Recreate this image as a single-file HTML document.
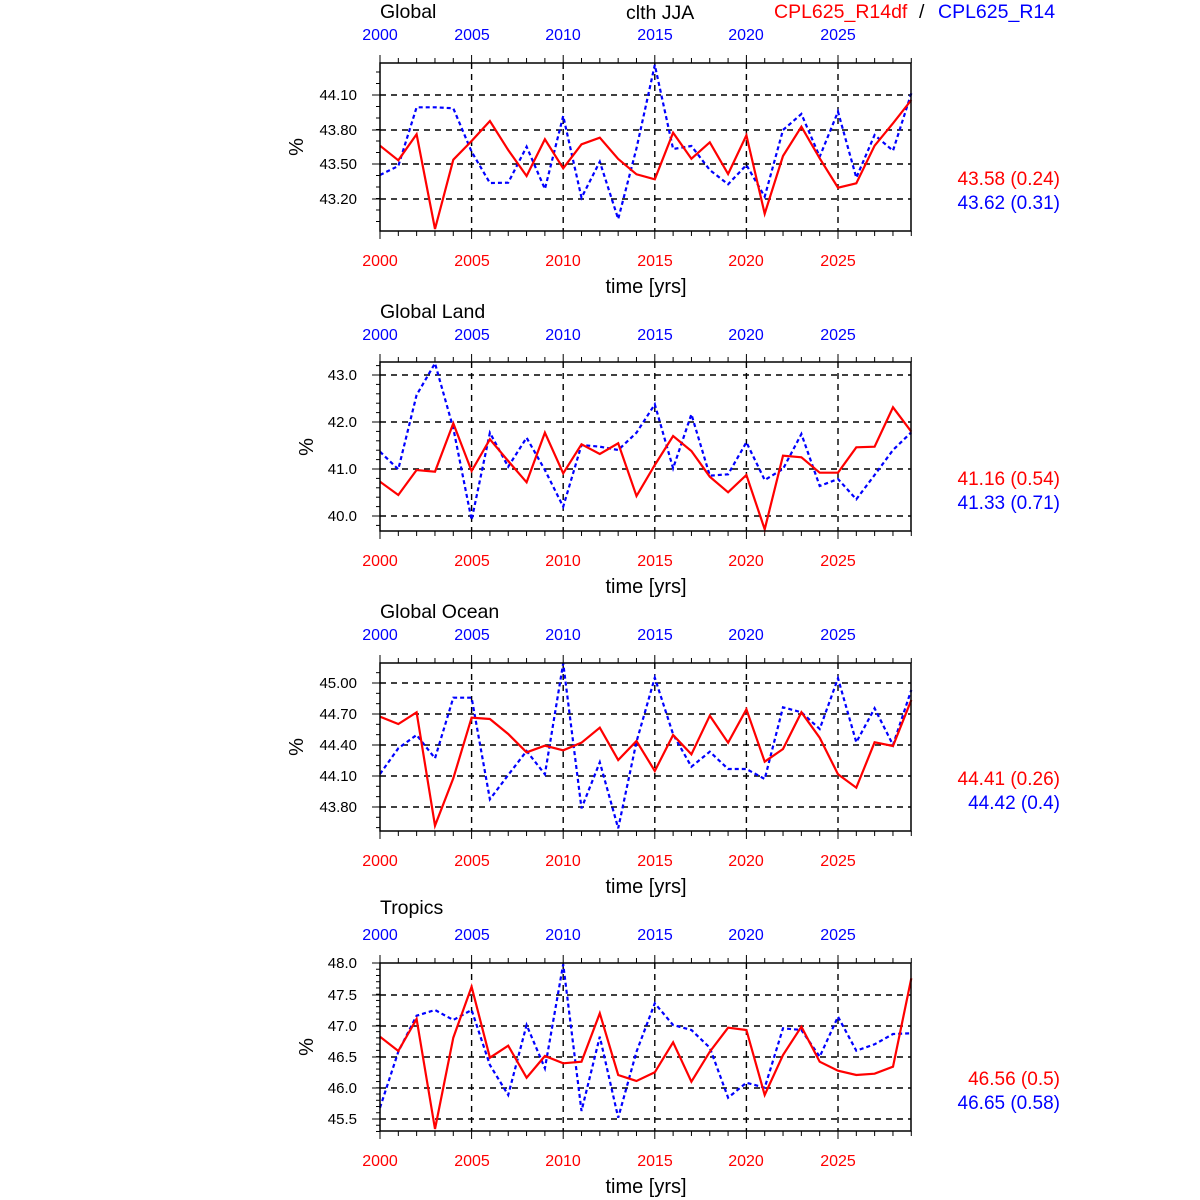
<!DOCTYPE html>
<html><head><meta charset="utf-8"><style>
html,body{margin:0;padding:0;background:#fff;}
svg{display:block;font-family:"Liberation Sans",Arial,sans-serif;}
</style></head><body>
<svg id="s" width="1200" height="1200" viewBox="0 0 1200 1200" xmlns="http://www.w3.org/2000/svg">
<g font-size="19.5" fill="#000">
<text x="380" y="18">Global</text>
<text x="626" y="19">clth JJA</text>
<text x="774" y="18" fill="#f00">CPL625_R14df</text>
<text x="919" y="18">/</text>
<text x="938" y="18" fill="#00f">CPL625_R14</text>
<text x="380" y="318">Global Land</text>
<text x="380" y="618">Global Ocean</text>
<text x="380" y="914">Tropics</text>
</g>
<g font-size="16" fill="#00f" text-anchor="middle">
<text x="380" y="40">2000</text><text x="472" y="40">2005</text><text x="563" y="40">2010</text><text x="655" y="40">2015</text><text x="746" y="40">2020</text><text x="838" y="40">2025</text>
<text x="380" y="340">2000</text><text x="472" y="340">2005</text><text x="563" y="340">2010</text><text x="655" y="340">2015</text><text x="746" y="340">2020</text><text x="838" y="340">2025</text>
<text x="380" y="640">2000</text><text x="472" y="640">2005</text><text x="563" y="640">2010</text><text x="655" y="640">2015</text><text x="746" y="640">2020</text><text x="838" y="640">2025</text>
<text x="380" y="940">2000</text><text x="472" y="940">2005</text><text x="563" y="940">2010</text><text x="655" y="940">2015</text><text x="746" y="940">2020</text><text x="838" y="940">2025</text>
</g>
<g font-size="16" fill="#f00" text-anchor="middle">
<text x="380" y="266">2000</text><text x="472" y="266">2005</text><text x="563" y="266">2010</text><text x="655" y="266">2015</text><text x="746" y="266">2020</text><text x="838" y="266">2025</text>
<text x="380" y="566">2000</text><text x="472" y="566">2005</text><text x="563" y="566">2010</text><text x="655" y="566">2015</text><text x="746" y="566">2020</text><text x="838" y="566">2025</text>
<text x="380" y="866">2000</text><text x="472" y="866">2005</text><text x="563" y="866">2010</text><text x="655" y="866">2015</text><text x="746" y="866">2020</text><text x="838" y="866">2025</text>
<text x="380" y="1166">2000</text><text x="472" y="1166">2005</text><text x="563" y="1166">2010</text><text x="655" y="1166">2015</text><text x="746" y="1166">2020</text><text x="838" y="1166">2025</text>
</g>
<g font-size="20" text-anchor="middle">
<text x="646" y="293">time [yrs]</text><text x="646" y="593">time [yrs]</text><text x="646" y="893">time [yrs]</text><text x="646" y="1193">time [yrs]</text>
<text transform="translate(303,147) rotate(-90)">%</text>
<text transform="translate(313,447) rotate(-90)">%</text>
<text transform="translate(303,747) rotate(-90)">%</text>
<text transform="translate(313,1047) rotate(-90)">%</text>
</g>
<g font-size="15" text-anchor="end">
<text x="357" y="100">44.10</text><text x="357" y="135">43.80</text><text x="357" y="169">43.50</text><text x="357" y="204">43.20</text>
<text x="357" y="380">43.0</text><text x="357" y="427">42.0</text><text x="357" y="474">41.0</text><text x="357" y="521">40.0</text>
<text x="357" y="688">45.00</text><text x="357" y="719">44.70</text><text x="357" y="750">44.40</text><text x="357" y="781">44.10</text><text x="357" y="812">43.80</text>
<text x="357" y="968">48.0</text><text x="357" y="1000">47.5</text><text x="357" y="1031">47.0</text><text x="357" y="1062">46.5</text><text x="357" y="1093">46.0</text><text x="357" y="1124">45.5</text>
</g>
<g font-size="19" text-anchor="end">
<text x="1060" y="185" fill="#f00">43.58 (0.24)</text><text x="1060" y="209" fill="#00f">43.62 (0.31)</text>
<text x="1060" y="485" fill="#f00">41.16 (0.54)</text><text x="1060" y="509" fill="#00f">41.33 (0.71)</text>
<text x="1060" y="785" fill="#f00">44.41 (0.26)</text><text x="1060" y="809" fill="#00f">44.42 (0.4)</text>
<text x="1060" y="1085" fill="#f00">46.56 (0.5)</text><text x="1060" y="1109" fill="#00f">46.65 (0.58)</text>
</g>
</svg>
<script>
var s=document.getElementById('s'),NS='http://www.w3.org/2000/svg';
function el(t,a){var e=document.createElementNS(NS,t);for(var k in a)e.setAttribute(k,a[k]);s.appendChild(e);return e;}
var P=[
{top:63,bot:231,major:[95,130,164,199],minor:11.5,
r:[272,316,238,522,314,258,198,285,363,253,340,268,248,312,358,373,233,311,262,357,241,476,303,215,310,398,385,272,205,135],
b:[360,333,157,157,160,290,384,383,275,402,183,428,320,492,280,30,282,273,345,388,330,425,225,177,305,170,368,240,287,115],off:55},
{top:362,bot:531,major:[375,422,469,516],minor:9.4,
r:[380,420,345,350,205,348,253,318,382,233,355,268,297,265,423,330,243,288,365,412,360,523,302,307,353,353,277,275,157,230],
b:[290,343,120,25,220,495,233,335,248,345,455,270,275,285,233,148,340,178,362,358,262,375,342,237,393,372,433,360,285,232],off:355},
{top:663,bot:831,major:[683,714,745,776,807],minor:10.33,
r:[185,207,172,512,370,188,192,237,292,272,286,263,218,315,258,348,240,298,182,263,163,320,282,172,248,358,398,262,273,135],
b:[357,280,240,310,128,128,433,360,288,358,25,460,322,520,260,68,238,335,290,342,342,372,157,172,222,70,262,160,270,105],off:655},
{top:963,bot:1131,major:[963,995,1026,1057,1088,1119],minor:6.24,
r:[245,288,192,522,248,95,308,272,368,303,325,320,175,360,378,352,262,380,290,218,225,420,300,215,320,347,360,356,335,70],
b:[458,290,182,165,195,165,330,420,210,340,28,468,245,488,290,145,210,225,278,428,383,398,220,225,305,185,287,268,237,235],off:955}];
var X0=380,DX=18.32,X1=911;
P.forEach(function(p){
 p.major.forEach(function(y){if(y>p.top+1)el('line',{x1:X0,x2:X1,y1:y,y2:y,stroke:'#000','stroke-width':1.4,'stroke-dasharray':'6,5'});});
 for(var i=5;i<30;i+=5){var x=X0+i*DX;el('line',{x1:x,x2:x,y1:p.top,y2:p.bot,stroke:'#000','stroke-width':1.4,'stroke-dasharray':'6,5'});}
 for(var i=0;i<30;i++){var x=X0+i*DX,L=(i%5==0)?8:5;
  el('line',{x1:x,x2:x,y1:p.top,y2:p.top-L,stroke:'#000','stroke-width':1});
  el('line',{x1:x,x2:x,y1:p.bot,y2:p.bot+L,stroke:'#000','stroke-width':1});}
 p.major.forEach(function(y){el('line',{x1:X0,x2:X0-8,y1:y,y2:y,stroke:'#000','stroke-width':1});});
 var y0=p.major[0];
 for(var y=y0;y<=p.bot+0.5;y+=p.minor)el('line',{x1:X0,x2:X0-4,y1:y,y2:y,stroke:'#000','stroke-width':1});
 for(var y=y0;y>=p.top-0.5;y-=p.minor)el('line',{x1:X0,x2:X0-4,y1:y,y2:y,stroke:'#000','stroke-width':1});
 function pts(a){return a.map(function(v,i){return (X0+i*DX).toFixed(1)+','+(p.off+v/3).toFixed(1);}).join(' ');}
 el('polyline',{points:pts(p.b),fill:'none',stroke:'#00f','stroke-width':2.2,'stroke-dasharray':'4,3'});
 el('polyline',{points:pts(p.r),fill:'none',stroke:'#f00','stroke-width':2.2});
 el('rect',{x:X0,y:p.top,width:X1-X0,height:p.bot-p.top,fill:'none',stroke:'#000','stroke-width':1.5});
});
</script>
</body></html>
